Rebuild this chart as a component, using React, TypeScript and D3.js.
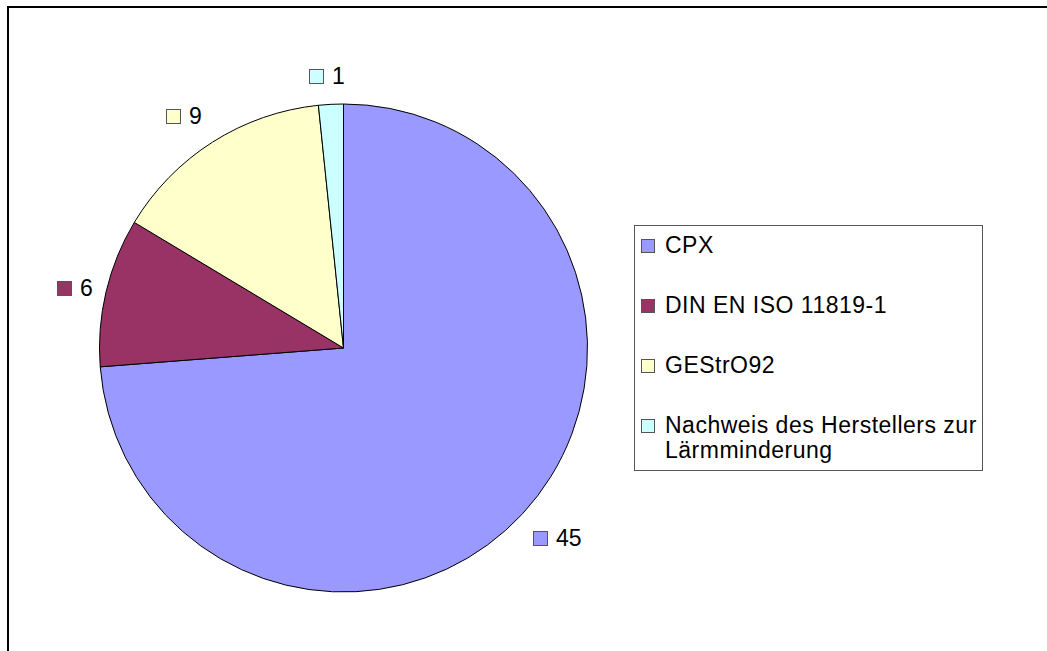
import React from "react";
import * as d3 from "d3";

const categories = ["CPX", "DIN EN ISO 11819-1", "GEStrO92", "Nachweis des Herstellers zur Lärmminderung"];
const values = [45, 6, 9, 1];
const colors = ["#9999FF", "#993366", "#FFFFCC", "#CCFFFF"];
const legendLines = [["CPX"], ["DIN EN ISO 11819-1"], ["GEStrO92"], ["Nachweis des Herstellers zur", "Lärmminderung"]];

const W = 1047;
const H = 651;
const cx = 343.5;
const cy = 348;
const R = 244;
const FONT = "'Liberation Sans', Arial, sans-serif";

const labelPos: [number, number][] = [
  [533, 531],
  [57, 281],
  [166, 109],
  [309, 69],
];

const legendRowY = [239, 299, 359, 419];

export default function App() {
  const pie = d3.pie<number>().sort(null).value((d) => d).startAngle(0).endAngle(2 * Math.PI);
  const arcs = pie(values);
  const arc = d3.arc<d3.PieArcDatum<number>>().innerRadius(0).outerRadius(R);

  return (
    <svg width={W} height={H} style={{ position: "absolute", left: 0, top: 0 }}>
      <rect x={0} y={0} width={W} height={H} fill="#ffffff" />
      <rect x={8} y={7} width={W + 20} height={H + 20} fill="none" stroke="#000" strokeWidth={2} />
      <g transform={`translate(${cx},${cy})`}>
        {arcs.map((a, i) => (
          <path key={i} d={arc(a) || ""} fill={colors[i]} stroke="#000" strokeWidth={1} />
        ))}
      </g>
      {arcs.map((a, i) => {
        const [x, y] = labelPos[i];
        return (
          <g key={"l" + i}>
            <rect x={x + 0.5} y={y + 0.5} width={14} height={14} fill={colors[i]} stroke="#555" strokeWidth={1} />
            <text x={x + 23} y={y + 15} fontFamily={FONT} fontSize={23} fill="#000">
              {a.data}
            </text>
          </g>
        );
      })}
      <rect x={634.5} y={225.5} width={348} height={245} fill="#fff" stroke="#555" strokeWidth={1} />
      {categories.map((c, i) => (
        <g key={"lg" + i}>
          <rect x={641.5} y={legendRowY[i] + 0.5} width={13} height={13} fill={colors[i]} stroke="#555" strokeWidth={1} />
          {legendLines[i].map((ln, j) => (
            <text key={j} x={665} y={legendRowY[i] + 14 + j * 25} fontFamily={FONT} fontSize={23} letterSpacing={0.5} fill="#000">
              {ln}
            </text>
          ))}
        </g>
      ))}
    </svg>
  );
}
